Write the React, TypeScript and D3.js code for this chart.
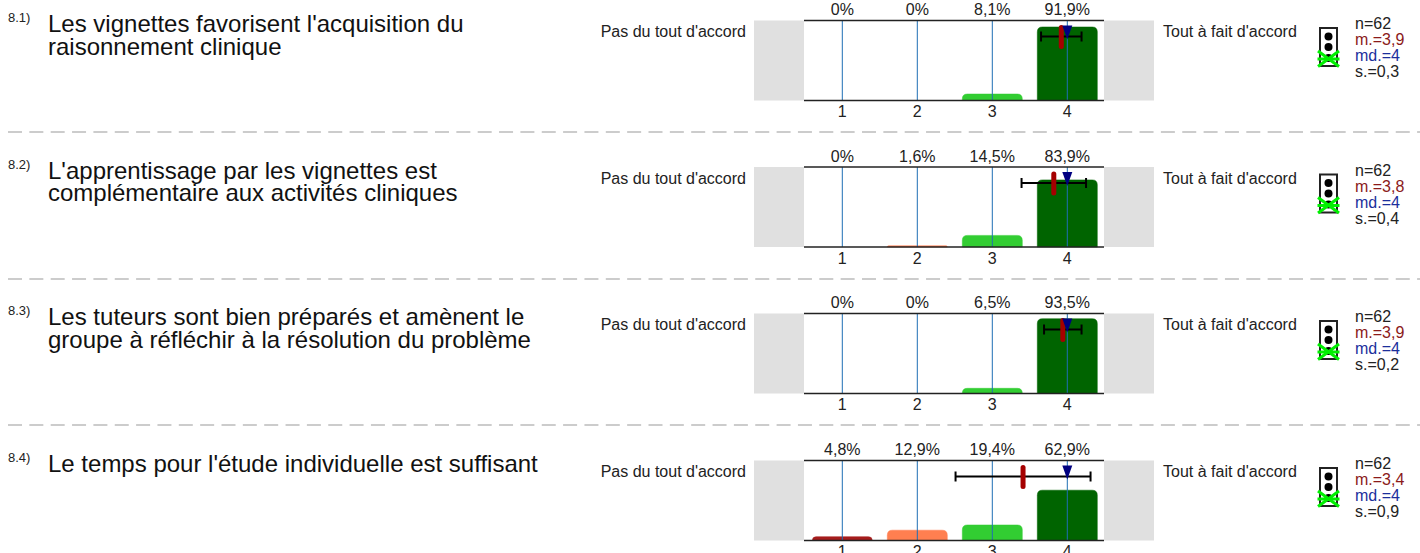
import React from "react";
import * as d3 from "d3";

const codes = ["8.1)", "8.2)", "8.3)", "8.4)"];
const titles = [
  ["Les vignettes favorisent l'acquisition du", "raisonnement clinique"],
  ["L'apprentissage par les vignettes est", "complémentaire aux activités cliniques"],
  ["Les tuteurs sont bien préparés et amènent le", "groupe à réfléchir à la résolution du problème"],
  ["Le temps pour l'étude individuelle est suffisant"],
];
const scale = [1, 2, 3, 4];
const percents = [
  [0, 0, 8.1, 91.9],
  [0, 1.6, 14.5, 83.9],
  [0, 0, 6.5, 93.5],
  [4.8, 12.9, 19.4, 62.9],
];
const means = [3.92, 3.82, 3.94, 3.41];
const medians = [4, 4, 4, 4];
const sds = [0.27, 0.43, 0.25, 0.9];
const meanLabels = ["3,9", "3,8", "3,9", "3,4"];
const sdLabels = ["0,3", "0,4", "0,2", "0,9"];
const barColors = ["#a51c1c", "#ff7f50", "#32cd32", "#006400"];
const rowTops = [20.5, 167, 313.5, 460.5];
const dividers = [132, 279, 425];

const FONT = "'Liberation Sans', Arial, sans-serif";

const x = d3.scaleLinear().domain([1, 4]).range([842.3, 1067.3]);
const h = d3.scaleLinear().domain([0, 100]).range([0, 80]);

function barPath(left: number, w: number, bottom: number, height: number) {
  // rounded top corners only
  const r = Math.min(5, height);
  const p = d3.path();
  p.moveTo(left, bottom);
  p.lineTo(left, bottom - height + r);
  p.quadraticCurveTo(left, bottom - height, left + r, bottom - height);
  p.lineTo(left + w - r, bottom - height);
  p.quadraticCurveTo(left + w, bottom - height, left + w, bottom - height + r);
  p.lineTo(left + w, bottom);
  p.closePath();
  return p.toString();
}

const Row = ({ i }: { i: number }) => {
  const top = rowTops[i];
  const bottom = top + 80;
  const fmt = (v: number) => `${String(v).replace(".", ",")}%`;
  const errL = x(means[i] - sds[i]);
  const errR = x(means[i] + sds[i]);
  const med = x(medians[i]);
  const lightX = 1320;
  const lightY = top + 7.5;
  return (
    <g>
      <text x={8} y={top + 1.5} fontSize={13} fill="#222">{codes[i]}</text>
      {titles[i].map((t, k) => (
        <text key={k} x={48} y={top + 11.5 + k * 22.5} fontSize={24} fill="#111">{t}</text>
      ))}
      <text x={746} y={top + 16.5} fontSize={16} textAnchor="end" fill="#222">Pas du tout d'accord</text>
      <text x={1163} y={top + 16.5} fontSize={16} fill="#222">Tout à fait d'accord</text>
      <rect x={754} y={top} width={50} height={80} fill="#e0e0e0" />
      <rect x={1104} y={top} width={50} height={80} fill="#e0e0e0" />
      {scale.map((s, k) => {
        const ht = h(percents[i][k]);
        return ht > 0 ? (
          <path key={s} d={barPath(x(s) - 30, 60, bottom, ht)} fill={barColors[k]} stroke={barColors[k]} strokeWidth={0.5} />
        ) : null;
      })}
      {scale.map((s) => (
        <line key={s} x1={x(s)} x2={x(s)} y1={top} y2={bottom} stroke="#1f6fb5" strokeWidth={1} />
      ))}
      <line x1={804} x2={1104} y1={top} y2={top} stroke="#222" strokeWidth={1.5} />
      <line x1={804} x2={1104} y1={bottom} y2={bottom} stroke="#222" strokeWidth={1.5} />
      {scale.map((s, k) => (
        <g key={s}>
          <text x={x(s)} y={top - 5.5} fontSize={16} textAnchor="middle" fill="#222">{fmt(percents[i][k])}</text>
          <text x={x(s)} y={bottom + 16.5} fontSize={16} textAnchor="middle" fill="#222">{s}</text>
        </g>
      ))}
      <line x1={errL} x2={errR} y1={top + 16} y2={top + 16} stroke="#000" strokeWidth={2} />
      <line x1={errL} x2={errL} y1={top + 11} y2={top + 21} stroke="#000" strokeWidth={2} />
      <line x1={errR} x2={errR} y1={top + 11} y2={top + 21} stroke="#000" strokeWidth={2} />
      <rect x={x(means[i]) - 2.5} y={top + 4.5} width={5} height={24} rx={2.5} fill="#a50000" />
      <path d={`M${med - 5},${top + 5}L${med + 5},${top + 5}L${med},${top + 19}Z`} fill="#000080" />
      <rect x={lightX} y={lightY} width={17} height={38} fill="#fff" stroke="#222" strokeWidth={2} />
      <circle cx={lightX + 8.5} cy={lightY + 8.5} r={4} fill="#000" />
      <circle cx={lightX + 8.5} cy={lightY + 19} r={4} fill="#000" />
      <circle cx={lightX + 8.5} cy={lightY + 30} r={4} fill="#000" />
      <g stroke="#00f000" strokeWidth={3}>
        <line x1={lightX - 2} x2={lightX + 19} y1={lightY + 23} y2={lightY + 38.5} />
        <line x1={lightX - 2} x2={lightX + 19} y1={lightY + 38.5} y2={lightY + 23} />
        <line x1={lightX - 2.5} x2={lightX + 19.5} y1={lightY + 31} y2={lightY + 31} />
      </g>
      <text x={1355} y={top + 8.5} fontSize={16} fill="#222">n=62</text>
      <text x={1355} y={top + 24.5} fontSize={16} fill="#8b1a1a">{`m.=${meanLabels[i]}`}</text>
      <text x={1355} y={top + 40.5} fontSize={16} fill="#1c2f9c">{`md.=${medians[i]}`}</text>
      <text x={1355} y={top + 56.5} fontSize={16} fill="#222">{`s.=${sdLabels[i]}`}</text>
    </g>
  );
};

export default function App() {
  return (
    <svg
      width={1420}
      height={553}
      style={{ position: "absolute", left: 0, top: 0, fontFamily: FONT, background: "#fff" }}
    >
      {dividers.map((y) => (
        <line key={y} x1={8} x2={1420} y1={y} y2={y} stroke="#999" strokeWidth={1} strokeDasharray="14 7.35" />
      ))}
      {rowTops.map((_, i) => (
        <Row key={i} i={i} />
      ))}
    </svg>
  );
}
